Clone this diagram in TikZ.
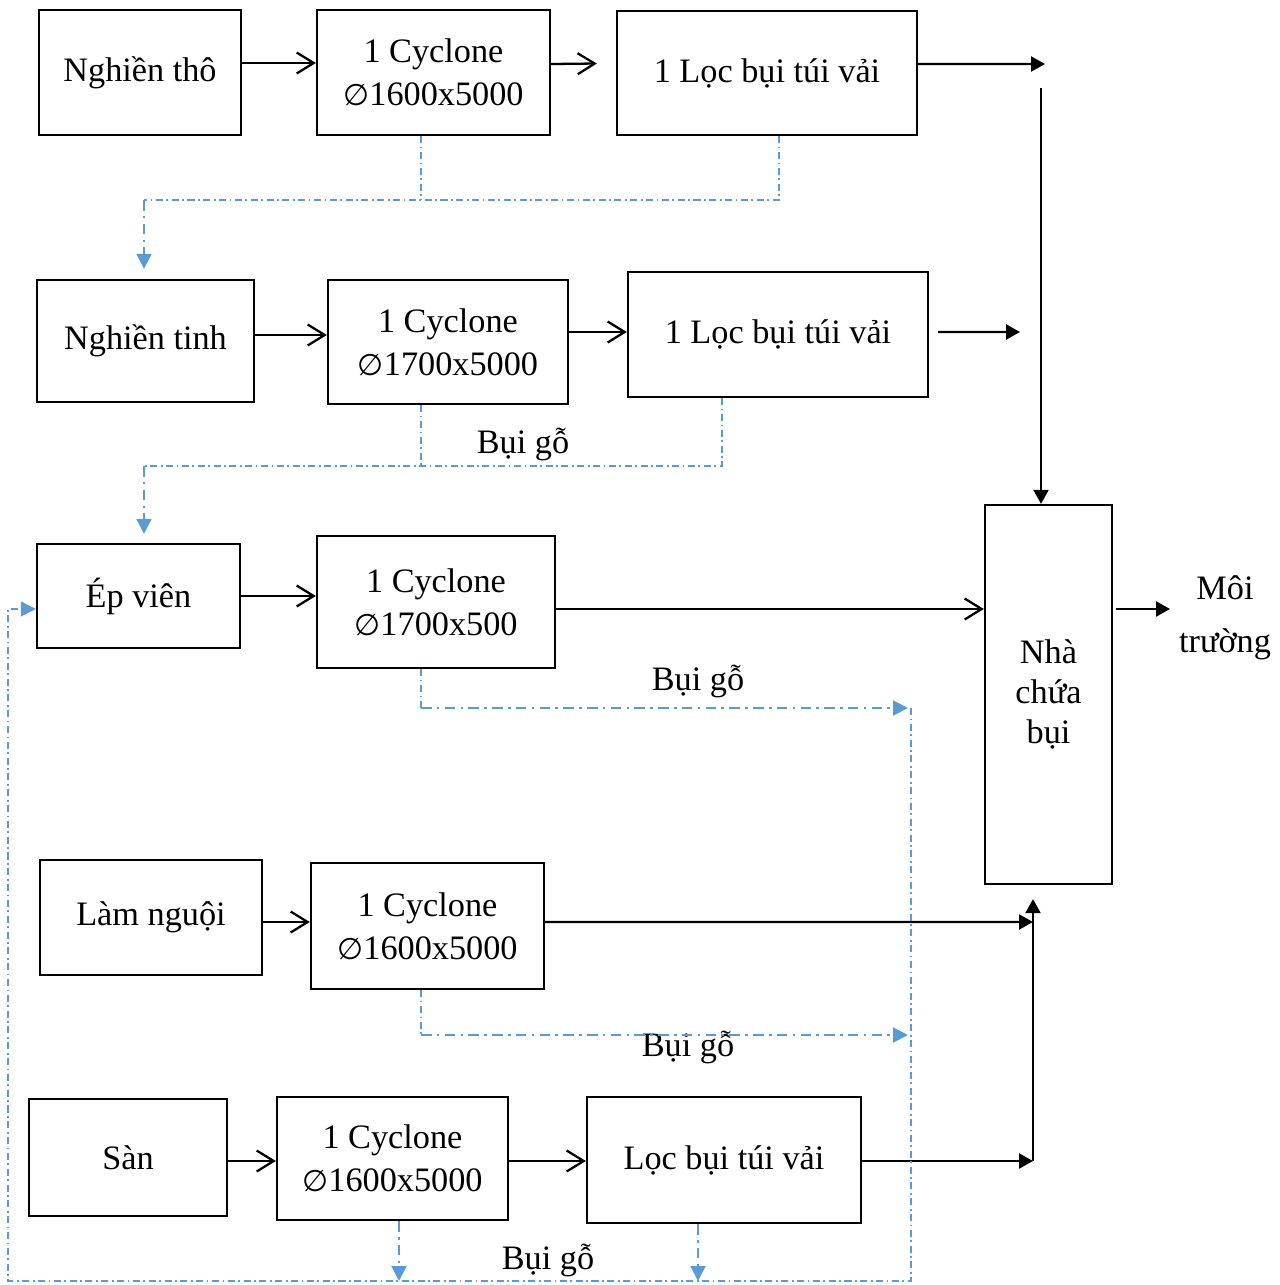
\documentclass[tikz,border=0pt]{standalone}
\usepackage{fontspec}
\setmainfont{Liberation Serif}
\newfontfamily\symfont{DejaVu Sans}
\usetikzlibrary{arrows.meta,positioning,calc}
\definecolor{dustBlue}{HTML}{5B9BD5}
\newcommand{\dia}{{\symfont\fontsize{17}{24.5}\selectfont ∅}}

\begin{document}
\begin{tikzpicture}[x=0.02cm,y=-0.02cm,
        block/.style={
            draw=black,
            line width=1.35pt,
            align=center,
            inner sep=0pt,
            font=\fontsize{19.5}{24.5}\selectfont
        },
        flow/.style={
            -{Straight Barb[length=3.4mm,width=4.2mm]},
            line width=1.3pt
        },
        outflow/.style={
            -{Triangle[length=2.8mm,width=3mm]},
            line width=1.3pt
        },
        dust/.style={
            draw=dustBlue,
            line width=0.6pt,
            dash pattern=on 4pt off 2pt on 1pt off 2pt
        },
        dustarrow/.style={
            dust,
            line width=1.2pt,
            dash pattern=on 6pt off 3pt on 1.5pt off 3pt,
            -{Triangle[length=3mm,width=3mm]}
        },
        tag/.style={font=\fontsize{19.5}{24.5}\selectfont, inner sep=0pt}
    ]
    \useasboundingbox (0,0) rectangle (1280,1285);

    % boxes
    \node[block, minimum width=4.04cm, minimum height=2.5cm] (nghientho) at (140,72.5) {Nghiền thô};
    \node[block, minimum width=4.66cm, minimum height=2.5cm] (cyc1) at (433.5,72.5) {1 Cyclone\\\dia1600x5000};
    \node[block, minimum width=6cm, minimum height=2.48cm] (loc1) at (767,73) {1 Lọc bụi túi vải};

    \node[block, minimum width=4.34cm, minimum height=2.44cm] (nghientinh) at (145.5,341) {Nghiền tinh};
    \node[block, minimum width=4.8cm, minimum height=2.48cm] (cyc2) at (448,342) {1 Cyclone\\\dia1700x5000};
    \node[block, minimum width=6cm, minimum height=2.5cm] (loc2) at (778,334.5) {1 Lọc bụi túi vải};

    \node[block, minimum width=4.06cm, minimum height=2.08cm] (epvien) at (138.5,596) {Ép viên};
    \node[block, minimum width=4.76cm, minimum height=2.64cm] (cyc3) at (436,602) {1 Cyclone\\\dia1700x500};

    \node[block, minimum width=2.54cm, minimum height=7.58cm, font=\fontsize{19.5}{22.7}\selectfont] (nha) at (1048.5,694.5) {Nhà\\chứa\\bụi};
    \node[tag, align=center] (moitruong) at (1225,618) {Môi\\[5.5pt]trường};

    \node[block, minimum width=4.44cm, minimum height=2.3cm] (lamnguoi) at (151,917.5) {Làm nguội};
    \node[block, minimum width=4.66cm, minimum height=2.52cm] (cyc4) at (427.5,926) {1 Cyclone\\\dia1600x5000};

    \node[block, minimum width=3.96cm, minimum height=2.34cm] (san) at (128,1157.5) {Sàn};
    \node[block, minimum width=4.62cm, minimum height=2.46cm] (cyc5) at (392.5,1158.5) {1 Cyclone\\\dia1600x5000};
    \node[block, minimum width=5.48cm, minimum height=2.52cm] (loc5) at (724,1160) {Lọc bụi túi vải};

    \node[tag] (bui2) at (523,444) {Bụi gỗ};
    \node[tag] (bui3) at (698,681) {Bụi gỗ};
    \node[tag] (bui4) at (688,1047) {Bụi gỗ};
    \node[tag] (bui5) at (548,1260) {Bụi gỗ};

    % free ends
    \coordinate (r1) at (1045,64);
    \coordinate (t1) at (1041,88);
    \coordinate (r2) at (1020,332);
    \coordinate (m3) at (1170,609);
    \coordinate (j4) at (1033,922);
    \coordinate (j5) at (1033,1161);
    \coordinate (d1) at (144,200);
    \coordinate (d2) at (144,466);
    \coordinate (d3) at (908,708);
    \coordinate (d4) at (908,1035);
    \coordinate (bl) at (8,1281);
    \coordinate (br) at (911,1281);

    % main flow
    \draw[flow] ([yshift=.19cm]nghientho.east) -- ([yshift=.19cm]cyc1.west);
    \draw[flow] ([yshift=.17cm]cyc1.east) -- ([xshift=-.38cm,yshift=.19cm]loc1.west);
    \draw[outflow] ([yshift=.18cm]loc1.east) -- (r1);
    \draw[outflow] (t1) -- (t1 |- nha.north);

    \draw[flow] ([yshift=.12cm]nghientinh.east) -- ([yshift=.12cm]nghientinh.east -| cyc2.west);
    \draw[flow] ([yshift=.2cm]cyc2.east) -- ([yshift=.2cm]cyc2.east -| loc2.west);
    \draw[outflow] ([xshift=.18cm,yshift=.05cm]loc2.east) -- (r2);

    \draw[flow] (epvien.east) -- (epvien.east -| cyc3.west);
    \draw[flow] ([yshift=-.14cm]cyc3.east) -- ([yshift=-.14cm]cyc3.east -| nha.west);
    \draw[outflow] ([xshift=.06cm]nha.east |- m3) -- (m3);

    \draw[flow] ([yshift=-.09cm]lamnguoi.east) -- ([yshift=-.09cm]lamnguoi.east -| cyc4.west);
    \draw[outflow] ([yshift=.08cm]cyc4.east) -- (j4);

    \draw[flow] ([yshift=-.07cm]san.east) -- ([yshift=-.07cm]san.east -| cyc5.west);
    \draw[flow] ([yshift=-.05cm]cyc5.east) -- ([yshift=-.05cm]cyc5.east -| loc5.west);
    \draw[outflow] (loc5.east |- j5) -- (j5);
    \draw[outflow] (j5) -- ([yshift=-.28cm]nha.south -| j5);

    % wood dust
    \draw[dust] ([xshift=-.25cm]cyc1.south) -- ([xshift=-.25cm]cyc1.south |- d1);
    \draw[dust] ([xshift=.24cm]loc1.south) |- (d1);
    \draw[dustarrow] (d1) -- ([yshift=.2cm]nghientinh.north -| d1);

    \draw[dust] ([xshift=-.54cm]cyc2.south) -- ([xshift=-.54cm]cyc2.south |- d2);
    \draw[dust] ([xshift=-1.12cm]loc2.south) |- (d2);
    \draw[dustarrow] (d2) -- ([yshift=.18cm]epvien.north -| d2);

    \draw[dust] ([xshift=-.3cm]cyc3.south) -- ([xshift=-.3cm]cyc3.south |- d3);
    \draw[dustarrow] ([xshift=-.3cm]cyc3.south |- d3) -- (d3);

    \draw[dust] ([xshift=-.13cm]cyc4.south) -- ([xshift=-.13cm]cyc4.south |- d4);
    \draw[dustarrow] ([xshift=-.13cm]cyc4.south |- d4) -- (d4);

    \draw[dustarrow] ([xshift=.13cm]cyc5.south) -- ([xshift=.13cm]cyc5.south |- bl);
    \draw[dustarrow] ([xshift=-.52cm]loc5.south) -- ([xshift=-.52cm]loc5.south |- bl);

    \draw[dust, -{Triangle[length=3mm,width=3mm]}] (d3 -| br) -- (br) -- (bl) |- ([yshift=-.26cm]epvien.west);

\end{tikzpicture}
\end{document}
